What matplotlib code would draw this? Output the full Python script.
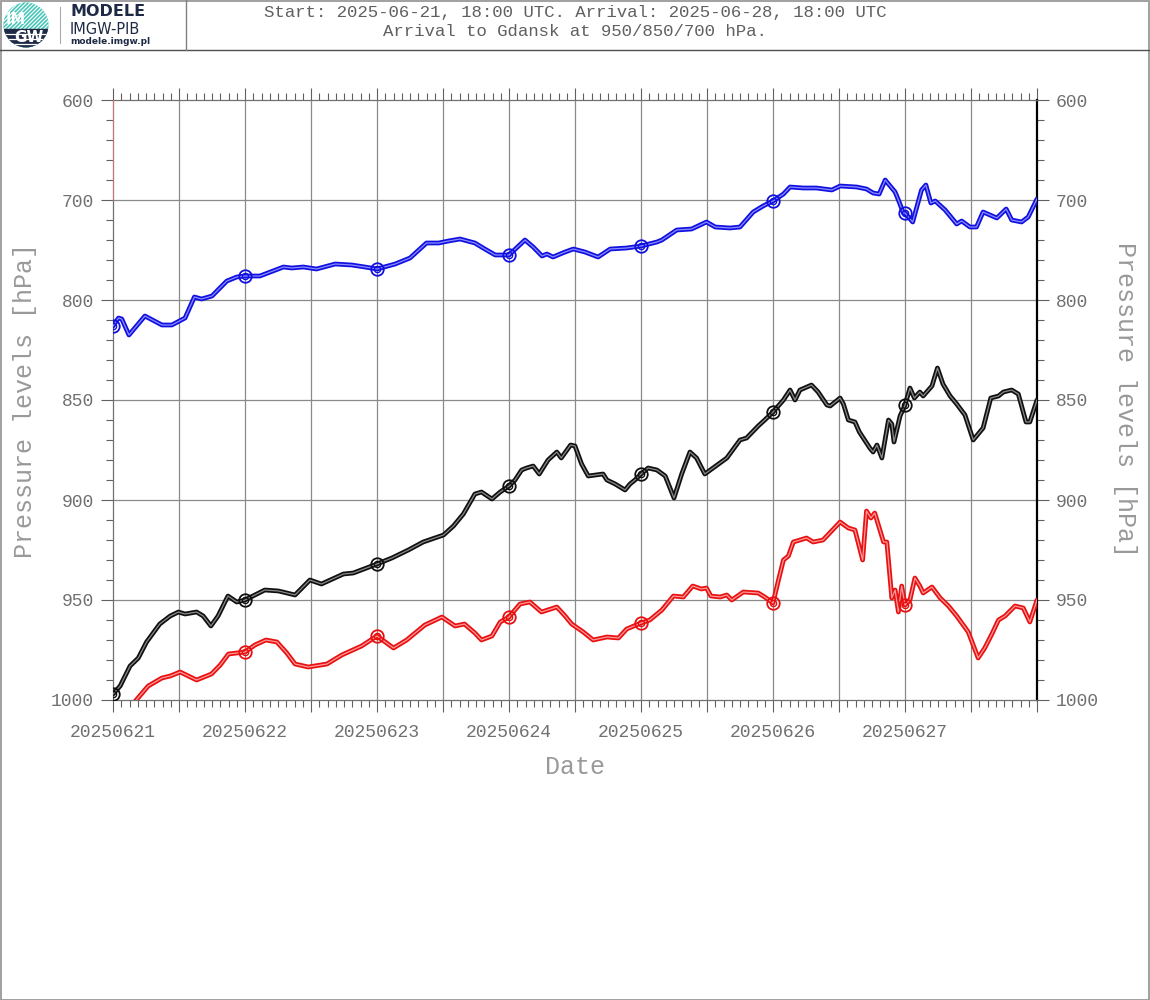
import numpy as np
import matplotlib
matplotlib.use("Agg")
import matplotlib.pyplot as plt
from matplotlib.patches import Circle, Rectangle
from matplotlib.lines import Line2D

# hours since 2025-06-21 00 UTC, pressure in hPa
blue_h = [0, 1, 1.6, 2.9, 5.8, 8.9, 10.7, 13.1, 14.8, 16.1, 18, 20.7, 22.5, 24, 26.7, 31, 32.5,
          34.6, 37, 40.4, 43.4, 45.8, 48, 51.3, 54, 57, 59.2, 61, 63.1, 65.8, 67.6, 69.5, 71, 72,
          74.9, 76.4, 78, 78.9, 80, 82.2, 83.7, 85.8, 88.2, 90.4, 93.4, 96, 98.9, 99.8, 102.5,
          105.2, 107.9, 109.5, 112.2, 114, 116.4, 118.2, 120, 121.9, 123.1, 125.5, 127.9, 130.7,
          132.2, 135.2, 137, 138.2, 139.3, 140.4, 142.2, 142.8, 143.7, 144, 145.4, 147, 147.8,
          148.7, 149.5, 151.3, 153.4, 154.3, 155.8, 157, 158.2, 160.7, 162.4, 163.4, 165.2,
          166.4, 168]
blue_p = [813, 809, 809.5, 817.5, 808, 812.5, 812.5, 809, 797, 799, 796, 781, 777, 776, 776, 767,
          768, 767, 769, 764, 765, 767, 769, 764, 758, 743, 743, 741, 739, 743, 749, 755, 755, 755,
          740, 747, 756, 754, 757, 752, 749, 752, 757, 749, 748, 746, 742, 740, 730, 729, 722, 727,
          728, 727, 712, 706, 701, 694, 687, 688, 688, 690, 686, 687, 689, 693, 694, 680, 692, 700,
          713, 713, 722, 690, 685, 703, 701, 710, 724, 721, 727, 727, 712, 718, 709, 720, 722,
          717, 699]

black_h = [0, 1.3, 3.1, 4.6, 6.1, 8.5, 10.4, 11.9, 13.1, 15.2, 16.4, 17.8, 19.1, 20.9, 22.5, 24,
           25.8, 27.6, 30.1, 33.1, 35.8, 37.9, 41.9, 43.7, 46.1, 48, 50.7, 53.7, 56.4, 60.1, 61.9,
           63.7, 65.8, 67, 68.9, 70.4, 72, 73.1, 74.3, 75.2, 76.4, 77.5, 79.1, 80.7, 81.5, 83.2,
           84, 85.2, 86.4, 89.1, 89.8, 91.3, 93.1, 94, 94.9, 96, 97.3, 98.9, 100.4, 102, 103.4,
           104.9, 106.1, 107.6, 109.1, 111.6, 114, 115.2, 117.3, 118.5, 120, 121.9, 123.1, 124,
           124.9, 127, 128.2, 129.8, 130.4, 132.2, 132.8, 133.7, 134.9, 135.7, 137.6, 138.2,
           138.9, 139.8, 141, 141.6, 142, 143.1, 144, 144.9, 145.7, 146.7, 147.3, 148.9, 149.9,
           150.9, 152.2, 153.4, 154.9, 156.4, 158.2, 159.6, 161, 161.9, 163.4, 164.6, 166, 166.7,
           168]
black_p = [997, 993, 983, 979, 971, 962, 958, 956, 957, 956, 958, 963, 958, 948, 951, 950, 947.5,
           945, 945.5, 947.5, 940, 942, 937, 936.5, 934, 932, 929, 925, 921, 917.5, 913, 907, 897,
           896, 899.5, 896, 893, 890, 885, 884, 883, 887, 880, 876, 879, 872.5, 873, 882, 888,
           887, 890, 892, 895, 892, 890, 887, 884, 885, 888, 899, 887, 876, 879, 887, 884, 879,
           870, 869, 863, 860, 856, 850, 845, 850, 845, 842.5, 846, 852.5, 853, 849, 852, 860,
           861, 866, 874, 876, 872.5, 879, 860, 862, 871, 858, 852.5, 844, 849, 846, 848, 843,
           834, 842, 848, 852, 857.5, 870, 864, 849, 848, 846, 845, 847, 861, 861, 850]

red_h = [3.3, 6.4, 8.9, 10.4, 12.2, 15.2, 17.9, 19.5, 21, 22.5, 24, 25.8, 27.8, 29.8, 31.6, 33.1,
         35.5, 38.9, 41.6, 45.2, 48, 49.5, 51, 53.4, 56.7, 59.8, 62.2, 63.9, 65.8, 67, 68.9, 70.4,
         72, 74, 75.8, 77.9, 80.7, 82.2, 83.4, 85.5, 87.3, 89.8, 91.9, 93.4, 96, 97.6, 99.8,
         101.9, 103.7, 105.4, 107, 107.9, 108.7, 110.4, 111.6, 112.5, 114.6, 117.3, 118.5, 120,
         121, 121.9, 122.8, 123.7, 126.1, 127.3, 129.1, 132.2, 133.7, 134.9, 136.3, 137, 137.8,
         138.5, 140.1, 140.7, 141.6, 142.2, 142.8, 143.4, 144, 144.9, 145.8, 146.7, 147.3, 148.9,
         150.4, 151.9, 153.4, 155.5, 157.3, 158.5, 159.8, 161, 162.2, 164, 165.5, 166.7, 168]
red_p = [1003, 993, 989, 988, 986, 990, 987, 982.5, 977, 976.5, 976, 972.5, 970, 971, 976.5, 982,
         983.5, 982, 977.5, 973, 968, 971, 974, 970, 962.5, 958.5, 963, 962, 966.5, 970, 968, 961,
         958.5, 952, 951, 956, 953.5, 958, 962, 966, 970, 968.5, 969, 964.5, 961.5, 960, 955, 948,
         948.5, 943, 944.5, 944, 948, 948.5, 947.5, 950, 946, 946.5, 948.5, 951.5, 940, 930, 928,
         921, 919, 921, 920, 911, 914, 915, 930, 905.5, 909, 906.5, 921, 921, 949, 945, 956, 943,
         952.5, 950, 939, 943, 946.5, 943.5, 949, 953, 958, 966, 979, 974, 967, 960, 958, 953,
         954, 961, 950]

day_hours = [0, 24, 48, 72, 96, 120, 144]
day_labels = ["20250621", "20250622", "20250623", "20250624", "20250625", "20250626", "20250627"]
major_p = [600, 700, 800, 850, 900, 950, 1000]


def fwd(p):
    p = np.asarray(p, dtype=float)
    return np.where(p <= 800, p - 600, 200 + 2 * (p - 800))


def inv(v):
    v = np.asarray(v, dtype=float)
    return np.where(v <= 200, v + 600, 800 + (v - 200) / 2)


mono = "Liberation Mono"
fig = plt.figure(figsize=(11.5, 10), dpi=100)
ax = fig.add_axes([113 / 1150, 0.3, 924 / 1150, 0.6])
ax.set_yscale("function", functions=(fwd, inv))
ax.set_xlim(0, 168)
ax.set_ylim(1000, 600)

# grid
for h in np.arange(12, 168, 12):
    ax.axvline(h, color="#8a8a8a", lw=0.9, zorder=1)
for p in major_p[1:-1]:
    ax.axhline(p, color="#8a8a8a", lw=0.9, zorder=1)

# odd red stroke at the start
ax.plot([0, 0], [600, 700], color="#e07070", lw=1.2, zorder=3)

series = [(blue_h, blue_p, "#1010e0", "#8c8cff", day_hours),
          (black_h, black_p, "#101010", "#8a8a8a", day_hours),
          (red_h, red_p, "#e81010", "#ff9a9a", day_hours[1:])]
for hh, pp, col, light, marks in series:
    ax.plot(hh, pp, color=col, lw=3.4, zorder=4, solid_capstyle="round")
    ax.plot(hh, pp, color=light, lw=0.9, zorder=5)
    mp = np.interp(marks, hh, pp)
    ax.plot(marks, mp, ls="none", marker="o", ms=9, mfc="none", mec=col, mew=1.3, zorder=6)
    ax.plot(marks, mp, ls="none", marker="o", ms=4.5, mfc="none", mec=col, mew=1.0, zorder=6)

# ticks
minor_p = [p for p in list(range(600, 800, 20)) + list(range(800, 1001, 10)) if p not in major_p]
ax.set_yticks(major_p)
ax.set_yticks(minor_p, minor=True)
ax.set_yticklabels([str(p) for p in major_p])
ax.set_xticks(np.arange(0, 169, 12))
ax.set_xticks(np.arange(0, 169, 1.5), minor=True)
ax.set_xticklabels([day_labels[i // 2] if i % 2 == 0 and i // 2 < len(day_labels) else ""
                    for i in range(15)])
ax.tick_params(which="both", direction="out", color="#606060", width=0.8,
               top=True, right=True, labelright=True, labeltop=False)
ax.tick_params(which="major", length=8.6, labelsize=13, labelcolor="#707070")
ax.tick_params(which="minor", length=5)
ax.tick_params(axis="x", which="major", pad=9)
ax.tick_params(axis="y", which="major", pad=5)
for lab in ax.get_xticklabels() + ax.get_yticklabels():
    lab.set_fontfamily(mono)

for s in ["left", "top", "bottom"]:
    ax.spines[s].set_color("#707070")
    ax.spines[s].set_linewidth(0.9)
ax.spines["right"].set_color("black")
ax.spines["right"].set_linewidth(1.6)

ax.set_xlabel("Date", fontsize=18, color="#999999", family=mono, labelpad=10)
fig.text(25 / 1150, 0.6, "Pressure levels [hPa]", rotation=90, ha="center", va="center",
         fontsize=18, color="#999999", family=mono)
fig.text(1125 / 1150, 0.6, "Pressure levels [hPa]", rotation=270, ha="center", va="center",
         fontsize=18, color="#999999", family=mono)

# header
fig.text(0.5, 1 - 12 / 1000, "Start: 2025-06-21, 18:00 UTC. Arrival: 2025-06-28, 18:00 UTC",
         ha="center", va="center", fontsize=12.5, color="#606060", family=mono)
fig.text(0.5, 1 - 31 / 1000, "Arrival to Gdansk at 950/850/700 hPa.",
         ha="center", va="center", fontsize=12.5, color="#606060", family=mono)
fig.add_artist(Line2D([0, 1], [0.95, 0.95], color="#505050", lw=1.0, transform=fig.transFigure))
fig.add_artist(Line2D([186 / 1150, 186 / 1150], [0.95, 1], color="#808080", lw=1.0,
                      transform=fig.transFigure))
fig.add_artist(Rectangle((0.0008, 0.0005), 0.998, 0.999, fill=False, ec="#909090", lw=1.2,
                         transform=fig.transFigure))

# logo
lax = fig.add_axes([3 / 1150, 1 - 48 / 1000, 46 / 1150, 46 / 1000])
lax.set_xlim(0, 46)
lax.set_ylim(0, 46)
lax.set_aspect("equal")
lax.axis("off")
circ = Circle((23, 23), 22.5, transform=lax.transData)
lax.add_patch(Rectangle((0, 0), 46, 46, color="#3fc6b6", clip_path=circ))
for k in range(-46, 50, 4):
    lax.plot([k, k + 46], [0, 46], color="white", lw=0.9, clip_path=circ)
lax.add_patch(Rectangle((0, 0), 46, 19, color="#1e2a45", clip_path=circ, zorder=3))
for yy in [4.5, 9.5, 14.5]:
    lax.plot([0, 46], [yy, yy], color="white", lw=0.9, clip_path=circ, zorder=4)
lax.text(13, 29, "IM", color="white", fontsize=10.5, fontweight="bold", ha="center",
         va="center", zorder=5, family="DejaVu Sans")
lax.text(26, 10.5, "GW", color="white", fontsize=11, fontweight="bold", ha="center",
         va="center", zorder=5, family="DejaVu Sans")
fig.add_artist(Line2D([60 / 1150, 60 / 1150], [1 - 7 / 1000, 1 - 43 / 1000], color="#aaaaaa",
                      lw=0.8, transform=fig.transFigure))
fig.text(70 / 1150, 1 - 12 / 1000, "MODELE", fontsize=11.5, fontweight="bold", color="#1e2a45",
         va="center", family="DejaVu Sans")
fig.text(70 / 1150, 1 - 29 / 1000, "IMGW-PIB", fontsize=10.5, color="#1e2a45", va="center",
         family="DejaVu Sans")
fig.text(70 / 1150, 1 - 42 / 1000, "modele.imgw.pl", fontsize=6.5, fontweight="bold",
         color="#1e2a45", va="center", family="DejaVu Sans")

fig.savefig("out.png", dpi=100)
